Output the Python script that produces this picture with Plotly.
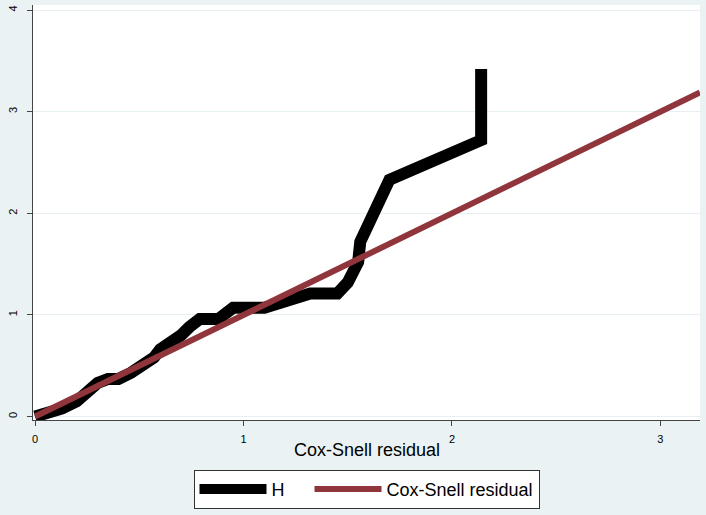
import plotly.graph_objects as go

# cumulative hazard H vs Cox-Snell residual
h_x = [0, 0.07, 0.13, 0.20, 0.25, 0.30, 0.35, 0.40, 0.46, 0.52, 0.57, 0.60, 0.65, 0.70,
       0.74, 0.79, 0.88, 0.95, 1.10, 1.32, 1.45, 1.50, 1.55, 1.56, 1.70, 2.14, 2.14]
h_y = [0, 0.03, 0.08, 0.15, 0.26, 0.33, 0.37, 0.37, 0.43, 0.51, 0.58, 0.66, 0.72, 0.80,
       0.88, 0.96, 0.96, 1.07, 1.07, 1.21, 1.21, 1.32, 1.52, 1.72, 2.33, 2.72, 3.42]

# reference line: residual against itself
cs_x = [0, 3.19]
cs_y = [0, 3.19]

x_ticks = [0, 1, 2, 3]
y_ticks = [0, 1, 2, 3, 4]

fig = go.Figure()
fig.add_trace(go.Scatter(x=h_x, y=h_y, mode="lines", name="H\u00a0\u00a0\u00a0\u00a0",
                         line=dict(color="black", width=12)))
fig.add_trace(go.Scatter(x=cs_x, y=cs_y, mode="lines", name="Cox-Snell residual",
                         line=dict(color="#90353B", width=6)))

fig.update_layout(
    width=706, height=515,
    margin=dict(l=33, r=6, t=5, b=95, autoexpand=False),
    paper_bgcolor="#EAF2F3",
    plot_bgcolor="white",
    font=dict(family="Liberation Sans, Arial, sans-serif", color="black"),
    showlegend=True,
    legend=dict(orientation="h", x=0.5, xanchor="center", y=-0.12, yanchor="top",
                bgcolor="white", bordercolor="#333333", borderwidth=1,
                font=dict(size=18), itemwidth=67, tracegroupgap=0),
)
# x axis title drawn as annotation so it can sit close to the tick labels
fig.add_annotation(text="Cox-Snell residual", xref="paper", yref="paper",
                   x=0.5, y=-0.072, xanchor="center", yanchor="middle",
                   showarrow=False, font=dict(size=18))
fig.update_xaxes(range=[-0.01, 3.19], tickvals=x_ticks, showgrid=False, zeroline=False,
                 showline=True, linecolor="#444444", linewidth=1, automargin=False,
                 ticks="outside", ticklen=5, tickcolor="#444444",
                 tickfont=dict(size=11), ticklabelstandoff=4)
fig.update_yaxes(range=[-0.034, 4.05], tickvals=y_ticks, showgrid=True, gridcolor="#E6EFF1",
                 zeroline=False, showline=True, linecolor="#444444", linewidth=1,
                 automargin=False,
                 ticks="outside", ticklen=5, tickcolor="#444444",
                 tickangle=-90, tickfont=dict(size=11), ticklabelstandoff=6)

fig.write_html("out.html", config={"displayModeBar": False},
               post_script="document.body.style.margin='0';")
